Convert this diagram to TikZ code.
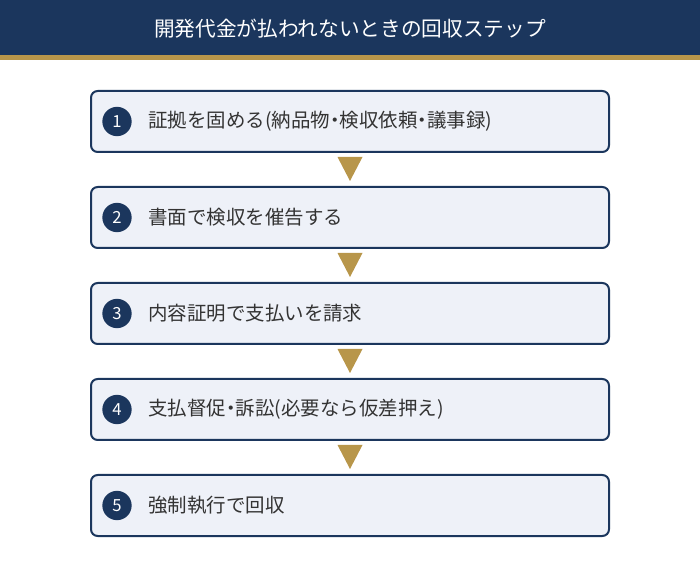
\documentclass[tikz,border=0pt]{standalone}
\usepackage{fontspec}
\setmainfont{Noto Sans CJK JP}
\usetikzlibrary{calc}
\definecolor{navy}{HTML}{1B365D}
\definecolor{gold}{HTML}{B8964A}
\definecolor{boxfill}{HTML}{EEF1F8}
\definecolor{bodytext}{HTML}{333333}
\newcommand{\ndot}{\makebox[0.5em][c]{・}}
\tikzset{
    stepbox/.style={draw=navy, line width=1.5pt, fill=boxfill, rounded corners=5pt,
        minimum width=388.5pt, minimum height=45.75pt, inner sep=0pt},
    stepnum/.style={circle, fill=navy, text=white, minimum size=22pt, inner sep=0pt,
        font=\fontsize{12.5}{12.5}\selectfont},
    steptext/.style={anchor=west, inner sep=0pt, text=bodytext,
        font=\fontsize{14.6}{14.6}\selectfont},
    arrowtri/.style={fill=gold}
}
\begin{document}
\begin{tikzpicture}[x=0.75pt, y=0.75pt]
        \useasboundingbox (0,0) rectangle (700,-566);
        % header
        \fill[navy] (0,0) rectangle (700,-55);
        \fill[gold] (0,-55) rectangle (700,-60);
        \node[text=white, font=\fontsize{15.5}{15.5}\selectfont] (title) at (350,-29)
            {開発代金が払われないときの回収ステップ};

        % steps
        \node[stepbox] (s1) at (350,-121.5) {};
        \node[stepbox] (s2) at (350,-217.5) {};
        \node[stepbox] (s3) at (350,-313.5) {};
        \node[stepbox] (s4) at (350,-409.5) {};
        \node[stepbox] (s5) at (350,-505.5) {};

        \node[stepnum] (n1) at (117,-121.5) {1};
        \node[stepnum] (n2) at (117,-217.5) {2};
        \node[stepnum] (n3) at (117,-313.5) {3};
        \node[stepnum] (n4) at (117,-409.5) {4};
        \node[stepnum] (n5) at (117,-505.5) {5};

        \node[steptext] (t1) at (148,-121.5) {証拠を固める(納品物\ndot 検収依頼\ndot 議事録)};
        \node[steptext] (t2) at (148,-217.5) {書面で検収を催告する};
        \node[steptext] (t3) at (148,-313.5) {内容証明で支払いを請求};
        \node[steptext] (t4) at (148,-409.5) {支払督促\ndot 訴訟(必要なら仮差押え)};
        \node[steptext] (t5) at (148,-505.5) {強制執行で回収};

        % arrows between steps
        \fill[arrowtri] ($(s1.south)+(-12.5,-4)$) -- ($(s1.south)+(12.5,-4)$) -- ($(s2.north)+(0,5)$) -- cycle;
        \fill[arrowtri] ($(s2.south)+(-12.5,-4)$) -- ($(s2.south)+(12.5,-4)$) -- ($(s3.north)+(0,5)$) -- cycle;
        \fill[arrowtri] ($(s3.south)+(-12.5,-4)$) -- ($(s3.south)+(12.5,-4)$) -- ($(s4.north)+(0,5)$) -- cycle;
        \fill[arrowtri] ($(s4.south)+(-12.5,-4)$) -- ($(s4.south)+(12.5,-4)$) -- ($(s5.north)+(0,5)$) -- cycle;
    \end{tikzpicture}
\end{document}
